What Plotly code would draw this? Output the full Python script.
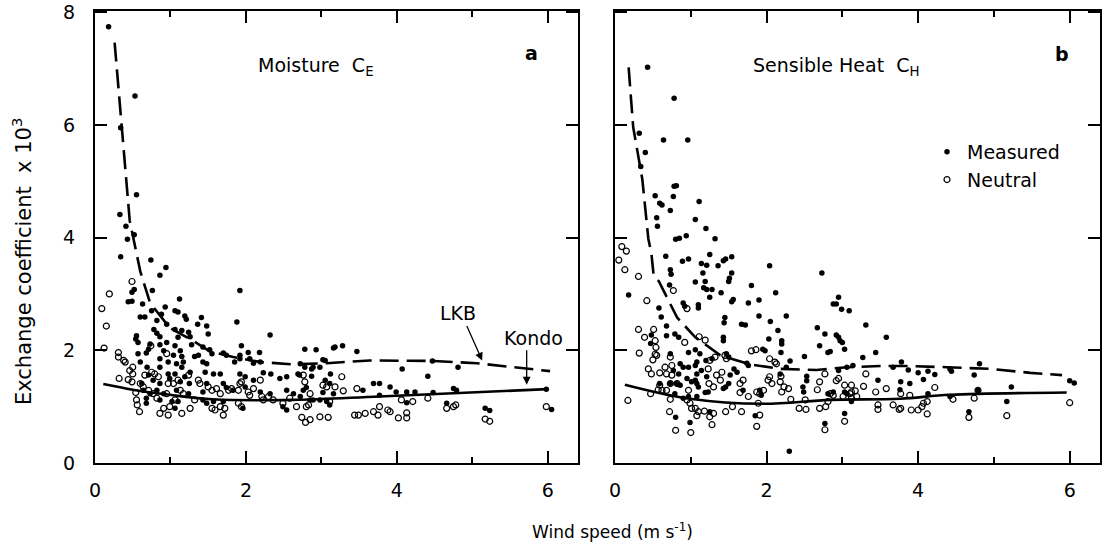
import plotly.graph_objects as go

# ---------------- data ----------------
A_meas_x = [0.18,0.53,0.34,0.55,0.33,0.41,0.52,0.43,0.34,0.74,0.94,0.86,0.52,0.49,0.76,0.44,0.49,0.63,1.12,1.92,0.93,1.06,1.10,0.75,0.60,0.66,0.88,1.19,1.21,1.41,1.88,0.82,0.95,1.36,1.48,1.06,1.15,1.24,0.78,0.82,0.86,1.50,2.32,0.55,0.54,1.10,1.26,0.57,0.73,0.86,0.95,1.06,1.28,1.94,1.43,0.71,0.91,1.13,0.57,0.68,1.52,1.55,1.37,3.16,3.28,2.78,2.93,3.47,2.03,2.18,1.92,1.70,1.74,0.60,0.86,1.04,1.15,1.32,1.92,2.05,2.19,2.87,3.02,0.97,0.86,1.08,1.17,1.43,1.48,1.85,2.10,0.97,1.15,1.06,1.26,1.46,1.57,1.66,1.92,2.23,2.33,2.69,2.78,2.87,3.12,2.45,2.54,1.99,2.10,2.71,0.69,0.71,0.77,0.86,0.99,1.13,1.19,1.25,0.62,0.64,0.73,0.82,0.91,1.08,1.24,1.43,1.48,1.70,1.74,1.83,1.99,2.19,2.32,2.54,2.63,2.76,3.02,3.16,3.55,3.69,0.68,0.68,0.86,1.02,1.06,1.10,1.43,1.48,1.57,1.70,1.96,2.49,2.54,2.89,3.07,3.11,3.18,2.72,2.89,2.98,3.05,4.07,4.41,4.47,4.81,2.80,3.05,3.11,3.77,3.91,3.99,4.13,4.24,4.48,4.79,4.75,3.77,4.66,5.17,5.23,6.05,5.98,4.13,2.72,2.85,2.98]
A_meas_y = [7.74,6.51,5.95,4.76,4.41,4.20,4.05,3.97,3.66,3.60,3.47,3.33,3.08,3.03,3.06,2.86,2.87,2.82,2.91,3.06,2.77,2.70,2.68,2.70,2.59,2.59,2.64,2.61,2.55,2.58,2.50,2.53,2.46,2.46,2.43,2.37,2.35,2.32,2.37,2.30,2.24,2.29,2.27,2.26,2.20,2.23,2.24,2.14,2.11,2.10,2.14,2.08,2.10,2.08,2.06,2.02,1.99,1.99,1.94,1.95,2.01,1.94,1.91,2.04,2.08,2.02,2.01,1.98,1.96,1.96,1.91,1.95,1.91,1.79,1.85,1.91,1.89,1.89,1.85,1.85,1.79,1.67,1.83,1.79,1.70,1.76,1.79,1.79,1.76,1.79,1.77,1.58,1.70,1.58,1.61,1.61,1.58,1.58,1.58,1.60,1.58,1.58,1.70,1.54,1.58,1.50,1.53,1.53,1.47,1.56,1.70,1.56,1.47,1.41,1.50,1.44,1.53,1.41,1.41,1.29,1.23,1.29,1.23,1.29,1.23,1.26,1.41,1.41,1.34,1.29,1.35,1.26,1.23,1.29,1.23,1.29,1.25,1.23,1.29,1.41,1.15,1.06,1.12,1.09,0.97,1.09,1.12,1.06,1.09,1.09,0.97,1.00,0.94,1.12,1.09,1.03,2.06,1.76,1.70,1.70,1.82,1.67,1.54,1.81,1.70,1.34,1.47,1.41,1.41,1.35,1.26,1.26,1.26,1.25,1.29,1.32,1.20,1.06,0.97,0.93,0.95,1.31,1.07,1.18,1.12,1.12]

A_neut_x = [0.09,0.19,0.15,0.12,0.49,0.31,0.31,0.38,0.40,0.32,0.44,0.49,0.50,0.50,0.60,0.64,0.54,0.55,0.56,0.59,0.74,0.75,0.79,0.84,0.86,0.97,0.91,0.99,0.95,0.97,1.04,1.10,1.13,1.26,1.15,1.32,1.39,1.50,1.55,1.61,1.66,1.55,1.59,1.66,1.70,1.72,1.77,1.81,1.90,1.92,1.94,1.90,1.94,2.03,2.05,2.10,2.19,2.21,2.23,2.30,2.36,2.49,2.58,2.67,2.78,2.80,2.85,2.74,2.79,2.85,2.98,3.09,3.02,3.07,3.18,3.27,3.11,3.44,3.49,3.58,3.69,3.75,3.47,3.29,0.66,0.46,0.71,0.77,0.82,0.95,1.06,1.17,1.37,1.24,2.76,2.83,3.88,3.91,3.77,4.02,4.13,4.13,4.06,4.21,4.41,4.66,4.75,4.78,5.17,5.23,5.98]
A_neut_y = [2.74,3.00,2.43,2.04,3.22,1.96,1.88,1.82,1.79,1.50,1.48,1.44,1.70,1.58,1.41,1.35,1.25,1.12,1.03,0.91,2.08,1.61,1.58,1.53,0.88,0.85,0.97,1.00,1.94,1.41,1.41,1.47,1.29,0.97,0.88,1.12,1.41,1.35,1.29,1.32,1.23,0.97,0.94,1.00,0.85,0.97,1.29,1.32,1.29,1.41,1.44,1.06,1.00,1.26,1.20,1.32,1.47,1.18,1.12,1.18,1.12,1.06,1.15,1.00,1.44,1.00,1.23,0.81,0.72,0.77,0.82,0.81,1.38,1.35,1.35,1.53,1.09,0.85,0.85,0.88,0.91,0.85,1.32,1.28,1.56,1.64,1.29,1.23,1.15,1.23,1.12,1.23,1.47,1.56,1.56,1.03,0.94,0.91,1.00,0.80,0.89,0.80,1.12,1.09,1.15,0.97,1.00,1.03,0.78,0.74,1.00]

B_meas_x = [0.43,0.78,0.32,0.64,0.96,0.40,0.34,0.78,0.81,0.53,0.59,0.62,0.77,1.11,0.73,0.55,1.06,0.56,1.20,0.80,0.85,0.94,1.32,0.67,0.89,0.97,1.25,1.14,1.21,1.36,1.43,1.46,1.54,0.73,0.74,2.04,1.16,1.54,1.51,1.50,1.06,1.19,1.17,1.21,1.28,0.72,1.80,2.73,0.18,1.25,1.40,2.12,2.95,2.92,2.88,1.90,1.56,1.54,1.76,0.90,0.92,1.10,1.10,0.58,2.99,3.09,0.61,1.45,1.44,1.90,1.67,1.72,2.26,2.05,3.31,0.68,2.67,2.15,2.77,2.92,2.95,2.97,3.00,3.58,0.48,0.68,0.79,0.84,1.43,1.43,2.03,2.20,2.20,0.47,2.70,3.03,2.81,2.84,1.95,1.98,0.97,1.06,1.12,2.19,2.50,3.27,3.44,0.73,1.47,1.50,2.31,1.08,1.06,1.20,1.28,1.74,1.76,2.26,0.86,0.90,0.97,0.77,0.84,1.08,1.14,1.57,1.61,1.52,2.18,2.53,2.53,2.48,2.49,2.95,3.06,3.14,3.67,1.21,1.06,1.08,1.10,3.47,0.95,1.01,0.59,0.73,0.81,0.86,1.43,1.46,1.50,1.69,1.91,1.93,2.81,2.88,3.03,3.06,1.23,1.19,1.08,0.79,0.90,0.97,1.25,1.85,3.03,2.77,0.80,0.99,2.30,3.78,3.87,4.00,4.07,4.13,4.22,3.77,3.76,3.89,4.42,4.44,4.81,4.74,5.23,5.17,6.00,6.06,4.13,4.67,4.79,3.12,4.42]
B_meas_y = [7.02,6.47,5.85,5.73,5.73,5.51,5.26,4.91,4.92,4.74,4.61,4.58,4.73,4.64,4.48,4.35,4.32,4.20,4.16,3.97,3.99,4.03,3.98,3.67,3.58,3.62,3.70,3.54,3.51,3.50,3.59,3.62,3.66,3.43,3.35,3.50,3.37,3.37,3.28,3.22,3.21,3.22,3.11,3.08,3.08,3.16,3.15,3.37,2.98,2.94,3.02,3.02,2.94,2.82,2.82,2.89,2.90,2.86,2.84,2.84,2.78,2.81,2.75,2.75,2.73,2.70,2.59,2.58,2.49,2.61,2.46,2.45,2.61,2.51,2.45,2.43,2.40,2.35,2.29,2.27,2.23,2.17,2.14,2.23,2.27,2.26,2.29,2.23,2.23,2.17,2.20,2.17,2.11,2.12,2.08,2.02,1.96,1.98,2.02,1.99,1.96,2.01,1.94,1.96,1.89,1.87,1.96,1.94,1.94,1.88,1.81,1.79,1.73,1.82,1.85,1.77,1.73,1.70,1.76,1.70,1.70,1.64,1.58,1.58,1.64,1.67,1.61,1.56,1.58,1.54,1.46,1.35,1.26,1.64,1.70,1.73,1.70,1.53,1.47,1.41,1.35,1.47,1.50,1.44,1.41,1.41,1.41,1.38,1.32,1.35,1.41,1.29,1.29,1.20,1.23,1.26,1.26,1.23,1.26,1.25,1.18,1.23,1.15,1.18,0.91,0.84,0.88,0.70,0.81,0.72,0.21,1.79,1.65,1.60,1.48,1.63,1.57,1.44,1.30,1.41,1.67,1.63,1.76,1.56,1.35,1.09,1.46,1.42,1.23,0.91,1.29,1.09,1.18]

B_neut_x = [0.09,0.15,0.05,0.13,0.31,0.77,0.42,0.95,0.31,0.39,0.51,0.32,0.53,0.54,0.55,1.11,1.19,0.92,0.50,0.73,0.44,0.48,0.59,0.66,0.68,0.75,0.75,0.53,0.59,0.62,0.68,0.73,0.82,0.47,0.57,0.73,0.97,0.95,0.99,1.01,1.06,1.08,1.10,1.18,1.25,1.30,0.72,0.17,0.80,1.00,1.28,1.23,1.25,1.32,1.34,1.41,1.39,1.45,1.47,1.24,1.30,1.46,1.55,1.67,1.65,1.69,1.65,1.76,1.80,1.86,1.89,1.91,1.87,1.96,1.91,1.87,2.04,2.11,2.13,2.02,2.04,2.07,2.18,2.19,2.20,2.23,2.29,2.32,2.43,2.52,2.51,2.70,2.78,2.67,2.70,2.77,2.81,2.84,2.88,2.92,2.95,3.03,3.01,3.10,3.12,3.19,3.17,2.77,3.03,3.31,3.28,3.44,3.47,3.47,3.58,3.67,3.75,3.12,3.12,3.77,3.77,3.89,3.91,4.00,4.05,4.07,4.12,4.12,4.22,4.46,4.67,4.74,4.79,5.17,6.00]
B_neut_y = [3.84,3.76,3.60,3.43,3.31,3.06,2.88,2.74,2.37,2.23,2.37,1.95,2.17,2.05,1.91,2.24,2.18,2.14,1.83,1.88,1.67,1.58,1.60,1.70,1.58,1.73,1.56,1.93,1.38,1.29,1.29,1.41,1.41,1.23,1.30,1.13,1.29,1.12,1.06,0.97,0.97,0.84,0.91,0.92,0.82,0.88,0.91,1.11,0.58,0.54,0.68,1.67,1.82,1.88,1.56,1.61,1.47,1.91,1.85,1.41,1.35,0.91,1.00,0.91,1.41,1.47,1.25,1.18,1.99,2.01,1.06,1.23,1.26,1.29,0.85,0.65,1.85,1.79,1.76,1.47,1.53,1.41,1.44,1.54,1.26,1.35,1.32,1.13,0.97,0.95,1.12,0.97,1.00,1.30,1.44,1.58,1.09,1.23,1.20,1.46,1.50,1.38,1.18,1.23,1.15,1.18,1.28,0.59,0.74,1.58,1.36,1.26,1.03,0.95,1.32,1.03,0.95,1.38,1.26,0.97,1.23,1.20,0.94,0.94,1.00,1.06,1.09,0.87,1.34,1.13,0.81,1.15,1.29,0.84,1.07]

A_lkb_x = [0.26,0.36,0.46,0.60,0.73,0.99,1.30,1.52,1.83,2.19,2.62,3.07,3.64,4.49,5.06,6.03]
A_lkb_y = [7.46,5.95,4.30,3.40,2.84,2.40,2.17,1.98,1.88,1.79,1.75,1.77,1.82,1.81,1.77,1.63]
A_kondo_x = [0.11,0.50,0.99,1.56,2.62,3.77,5.99]
A_kondo_y = [1.40,1.30,1.21,1.13,1.12,1.18,1.31]

B_lkb_x = [0.18,0.24,0.36,0.44,0.48,0.51,0.58,0.70,0.82,1.06,1.39,1.78,2.18,2.66,3.06,3.50,3.85,4.38,4.95,5.48,5.90]
B_lkb_y = [7.02,5.96,5.04,3.98,3.72,3.33,3.22,2.90,2.58,2.23,1.91,1.75,1.67,1.65,1.70,1.72,1.72,1.70,1.67,1.60,1.56]
B_kondo_x = [0.13,0.99,1.95,2.84,3.76,4.42,5.96]
B_kondo_y = [1.39,1.14,1.05,1.12,1.14,1.21,1.25]

x_ticks = [0, 2, 4, 6]
y_ticks = [0, 2, 4, 6, 8]

# ---------------- figure ----------------
W, H = 1106, 550
FONT = "DejaVu Sans"
fig = go.Figure()

def add_panel(xa, ya, mx, my, nx, ny, lx, ly, kx, ky, legend):
    fig.add_trace(go.Scatter(x=lx, y=ly, mode="lines", xaxis=xa, yaxis=ya, showlegend=False,
                             line=dict(color="black", width=2.6, dash="19px,8px")))
    fig.add_trace(go.Scatter(x=kx, y=ky, mode="lines", xaxis=xa, yaxis=ya, showlegend=False,
                             line=dict(color="black", width=2.6, shape="spline", smoothing=1.0)))
    fig.add_trace(go.Scatter(x=nx, y=ny, mode="markers", xaxis=xa, yaxis=ya, name="Neutral",
                             showlegend=legend, legendrank=2,
                             marker=dict(symbol="circle-open", size=6, color="black", line=dict(width=1.2))))
    fig.add_trace(go.Scatter(x=mx, y=my, mode="markers", xaxis=xa, yaxis=ya, name="Measured",
                             showlegend=legend, legendrank=1,
                             marker=dict(symbol="circle", size=5.5, color="black")))

add_panel("x", "y", A_meas_x, A_meas_y, A_neut_x, A_neut_y, A_lkb_x, A_lkb_y, A_kondo_x, A_kondo_y, False)
add_panel("x2", "y2", B_meas_x, B_meas_y, B_neut_x, B_neut_y, B_lkb_x, B_lkb_y, B_kondo_x, B_kondo_y, True)

ydom = [1 - 463 / H, 1 - 11 / H]
common_x = dict(range=[0, 6.4], tickvals=x_ticks, ticks="inside", ticklen=12, tickwidth=1.5,
                tickcolor="black", showline=True, linewidth=2, linecolor="black", mirror="ticks",
                showgrid=False, zeroline=False, ticklabelstandoff=9, automargin=False,
                minor=dict(dtick=1, ticks="inside", ticklen=6, tickwidth=1.5, tickcolor="black", showgrid=False),
                tickfont=dict(size=19, family=FONT, color="black"))
common_y = dict(range=[0, 8.02], tickvals=y_ticks, ticks="inside", ticklen=12, tickwidth=1.5,
                tickcolor="black", showline=True, linewidth=2, linecolor="black", mirror="ticks",
                showgrid=False, zeroline=False, domain=ydom, ticklabeloverflow="allow", automargin=False,
                tickfont=dict(size=19, family=FONT, color="black"))

fig.update_layout(
    width=W, height=H,
    margin=dict(l=0, r=0, t=0, b=0, autoexpand=False),
    paper_bgcolor="white", plot_bgcolor="white",
    font=dict(family=FONT, size=19, color="black"),
    xaxis=dict(common_x, domain=[95 / W, 578 / W], anchor="y"),
    xaxis2=dict(common_x, domain=[615 / W, 1100 / W], anchor="y2"),
    yaxis=dict(common_y, anchor="x", ticklabelstandoff=14),
    yaxis2=dict(common_y, anchor="x2", showticklabels=False),
    legend=dict(x=927 / W, y=1 - 133 / H, xanchor="left", yanchor="top", bgcolor="rgba(0,0,0,0)",
                font=dict(size=19, family=FONT), tracegroupgap=0),
    showlegend=True,
)

def ann(text, px, py, xanchor="center", yanchor="middle", size=19, angle=0):
    fig.add_annotation(text=text, x=px / W, y=1 - py / H, xref="paper", yref="paper",
                       xanchor=xanchor, yanchor=yanchor, showarrow=False, textangle=angle,
                       font=dict(size=size, family=FONT, color="black"))

ann("Moisture  C<sub>E</sub>", 256, 66, xanchor="left")
ann("<b>a</b>", 531, 53)
ann("Sensible Heat  C<sub>H</sub>", 751, 66, xanchor="left")
ann("<b>b</b>", 1062, 54)
ann("LKB", 458, 313)
ann("Kondo", 533, 338)
ann("Exchange coefficient  x 10<sup>3</sup>", 22, 262, angle=-90, size=21)
ann("Wind speed (m s<sup>-1</sup>)", 612, 531, size=17)

# arrows to the curves (tips on the curves, data coordinates)
fig.add_annotation(x=5.13, y=1.82, xref="x", yref="y", text="", showarrow=True, ax=-16, ay=-36,
                   arrowhead=2, arrowsize=1.2, arrowwidth=1.3, arrowcolor="black")
fig.add_annotation(x=5.72, y=1.39, xref="x", yref="y", text="", showarrow=True, ax=0, ay=-36,
                   arrowhead=2, arrowsize=1.2, arrowwidth=1.3, arrowcolor="black")

fig.write_html("out.html")
